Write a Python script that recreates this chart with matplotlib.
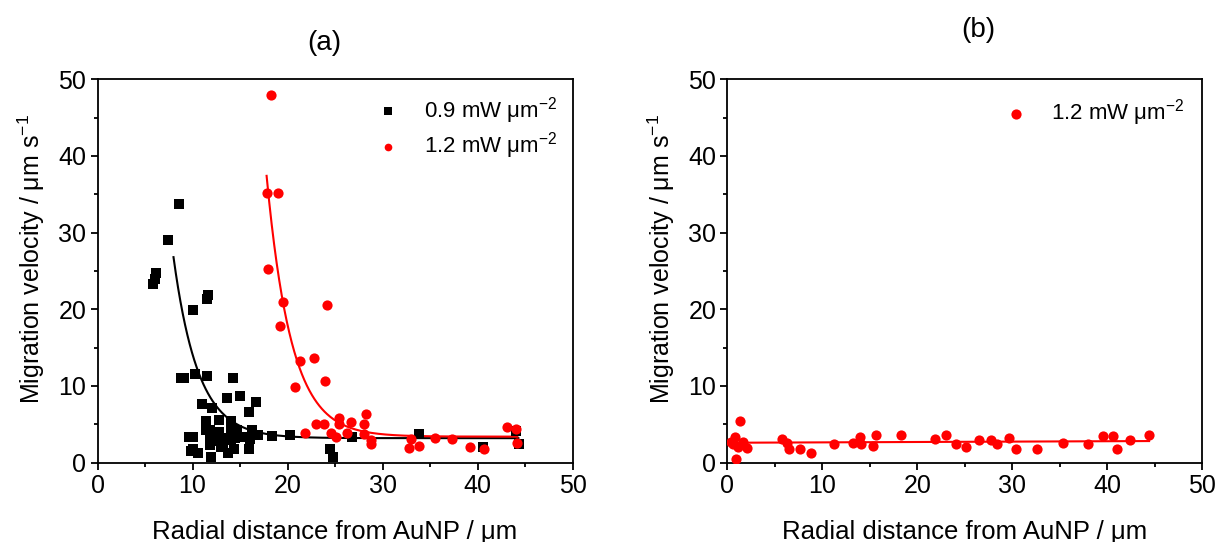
import numpy as np
import matplotlib
matplotlib.use("Agg")
import matplotlib.pyplot as plt
from matplotlib.ticker import MultipleLocator

plt.rcParams['font.family'] = ['Liberation Sans', 'DejaVu Sans']
plt.rcParams['mathtext.fontset'] = 'custom'
plt.rcParams['mathtext.rm'] = 'Liberation Sans'
plt.rcParams['mathtext.it'] = 'Liberation Sans'
plt.rcParams['mathtext.default'] = 'regular'

# Panel (a): 0.9 mW um^-2 (black squares)
a09_x = [8.6, 7.4, 5.8, 6.0, 6.2, 11.5, 11.6, 10.1, 8.8, 9.1, 10.3, 11.5, 14.3,
         11.0, 13.6, 15.0, 16.7, 15.9, 12.1, 11.4, 12.8, 14.1, 11.4, 11.8, 12.8,
         14.1, 14.7, 16.3, 16.9, 18.4, 20.3, 9.6, 10.0, 11.8, 12.8, 13.6, 14.5,
         15.3, 16.1, 11.8, 13.0, 14.4, 15.9, 10.0, 10.6, 11.9, 13.7, 12.3, 13.2,
         24.5, 24.8, 26.8, 33.8, 40.6, 44.0, 44.4, 9.8, 12.5, 14.0]
a09_y = [33.7, 29.0, 23.3, 24.0, 24.7, 21.3, 21.9, 19.9, 11.0, 11.1, 11.6, 11.3, 11.0,
         7.7, 8.5, 8.7, 7.9, 6.6, 7.1, 5.4, 5.6, 5.5, 4.3, 4.3, 4.0,
         4.3, 4.3, 4.3, 3.6, 3.5, 3.6, 3.3, 3.4, 3.2, 3.3, 3.2, 3.2,
         3.3, 3.1, 2.3, 2.1, 1.75, 1.75, 1.8, 1.2, 0.8, 1.2, 2.8, 2.6,
         1.8, 0.8, 3.3, 3.7, 2.1, 4.1, 2.4, 1.5, 3.7, 2.9]

# Panel (a): 1.2 mW um^-2 (red circles)
a12_x = [18.3, 17.8, 19.0, 17.9, 19.5, 19.2, 24.2, 21.3, 22.8, 20.8, 23.9, 21.8,
         23.0, 23.8, 25.4, 25.4, 24.6, 25.1, 26.3, 26.7, 28.3, 28.1, 28.1, 28.8,
         28.8, 33.0, 32.8, 33.8, 35.5, 37.3, 39.2, 40.7, 43.1, 44.1, 44.2]
a12_y = [47.9, 35.2, 35.2, 25.3, 21.0, 17.8, 20.6, 13.2, 13.7, 9.9, 10.6, 3.9,
         5.1, 5.1, 5.8, 5.0, 3.9, 3.3, 3.9, 5.3, 6.3, 5.1, 3.7, 3.0,
         2.4, 3.05, 1.9, 2.2, 3.2, 3.1, 2.1, 1.8, 4.7, 4.35, 2.6]

# Panel (b): 1.2 mW um^-2 (red circles)
b12_x = [0.35, 0.63, 0.8, 0.9, 1.16, 1.3, 1.6, 2.1, 5.8, 6.25, 6.5, 7.7, 8.8,
         11.2, 13.2, 14.0, 14.1, 15.3, 15.6, 18.3, 21.9, 23.0, 24.1, 25.1,
         26.5, 27.8, 28.4, 29.7, 30.4, 32.6, 35.3, 38.0, 39.5, 40.6, 41.0,
         42.4, 44.4]
b12_y = [2.7, 2.4, 3.4, 0.45, 2.1, 5.5, 2.7, 1.9, 3.05, 2.6, 1.85, 1.85, 1.3,
         2.5, 2.6, 3.4, 2.4, 2.2, 3.6, 3.6, 3.05, 3.6, 2.4, 2.1,
         3.0, 3.0, 2.4, 3.2, 1.8, 1.8, 2.6, 2.4, 3.5, 3.5, 1.8,
         3.0, 3.6]

# Fit parameters (exponential decay y = y0 + A*exp(-(x-x0)/t), linear for b)
fit09 = dict(y0=3.2, A=23.6, x0=8.0, t=2.6, xmin=8.0, xmax=44.3)
fit12a = dict(y0=3.4, A=34.0, x0=17.8, t=2.6, xmin=17.8, xmax=44.2)
fit12b = dict(a=2.6, b=0.005, xmin=0.0, xmax=44.4)

legend_09 = '0.9 mW μm$^{−2}$'
legend_12 = '1.2 mW μm$^{−2}$'
xlabel = 'Radial distance from AuNP / μm'
ylabel = 'Migration velocity / μm s$^{-1}$'

fig = plt.figure(figsize=(12.19, 5.42), dpi=100)
axA = fig.add_axes([97.5/1219, 1-462.7/542, 475/1219, 383.5/542])
axB = fig.add_axes([727.3/1219, 1-462.7/542, 475/1219, 383.5/542])

def expfit(p):
    x = np.linspace(p['xmin'], p['xmax'], 300)
    return x, p['y0'] + p['A'] * np.exp(-(x - p['x0']) / p['t'])

x, y = expfit(fit09)
axA.plot(x, y, color='black', lw=1.5, zorder=2)
x, y = expfit(fit12a)
axA.plot(x, y, color='red', lw=1.5, zorder=2)
axA.scatter(a09_x, a09_y, marker='s', s=48, color='black', label=legend_09, zorder=3, linewidths=0)
axA.scatter(a12_x, a12_y, marker='o', s=54, color='red', label=legend_12, zorder=3, linewidths=0)

xb = np.linspace(fit12b['xmin'], fit12b['xmax'], 100)
axB.plot(xb, fit12b['a'] + fit12b['b'] * xb, color='red', lw=1.5, zorder=2)
axB.scatter(b12_x, b12_y, marker='o', s=54, color='red', label=legend_12, zorder=3, linewidths=0)

for ax in (axA, axB):
    ax.set_xlim(0, 50)
    ax.set_ylim(0, 50)
    ax.xaxis.set_major_locator(MultipleLocator(10))
    ax.xaxis.set_minor_locator(MultipleLocator(5))
    ax.yaxis.set_major_locator(MultipleLocator(10))
    ax.yaxis.set_minor_locator(MultipleLocator(5))
    ax.tick_params(which='major', direction='out', length=5, width=1.3, labelsize=18, pad=3)
    ax.tick_params(which='minor', direction='out', length=3, width=1.3)
    for s in ax.spines.values():
        s.set_linewidth(1.3)
    ax.set_xlabel(xlabel, fontsize=18.5, labelpad=16)
    ax.set_ylabel(ylabel, fontsize=18)
    ax.yaxis.set_label_coords(-0.106, 0.53)

axA.legend(loc='upper right', frameon=False, fontsize=16, handletextpad=0.6,
           borderaxespad=0.3, scatterpoints=1, markerscale=0.75, labelspacing=0.2)
axB.legend(loc='upper right', frameon=False, fontsize=16, handletextpad=0.6,
           borderaxespad=0.4, scatterpoints=1, markerscale=1.0)

fig.text(324/1219, 1-43/542, '(a)', fontsize=20, ha='center', va='center')
fig.text(978/1219, 1-30/542, '(b)', fontsize=20, ha='center', va='center')

fig.savefig('out.png', dpi=100)
